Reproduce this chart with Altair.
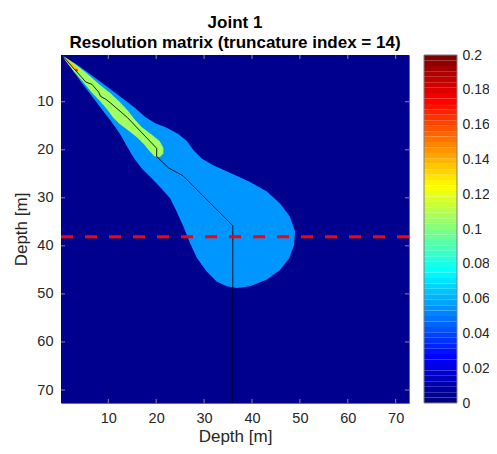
import altair as alt
import pandas as pd

FONT = "Liberation Sans"
TXT = "#262626"

# axis domains (depth in m)
X_DOMAIN = [0.13, 72.78]
Y_DOMAIN = [0.28, 72.7]

# contour levels of the resolution matrix
LEVEL_BG = 0.003
LEVEL_LB = 0.0544
LEVEL_GR = 0.1064
LEVEL_YE = 0.136
LEVEL_RE = 0.17

# background (lowest contour band)
bg_x = [0.13, 72.78, 72.78, 0.13]
bg_y = [0.28, 0.28, 72.7, 72.7]

# light-blue contour band
lb_x = [0.48, 4.1, 7.6, 10.4, 13.1, 15.6, 17.7, 19.8, 22.2, 24.6, 26.4, 27.8, 29.5,
        31.9, 35.4, 39.6, 43.1, 45.85, 47.9, 49.0, 48.8, 47.8, 45.85, 43.1, 39.6,
        36.8, 34.7, 32.6, 30.5, 28.5, 27.06, 25.7, 24.1, 22.9, 21.1, 19.1, 17.0,
        15.2, 13.8, 12.45, 10.7, 8.6, 6.5, 4.4, 2.4, 0.62]
lb_y = [0.38, 2.7, 5.3, 7.35, 9.4, 11.3, 13.2, 14.5, 15.4, 16.7, 18.2, 20.1, 21.8,
        23.2, 24.8, 26.7, 28.7, 31.2, 33.9, 37.0, 39.8, 42.5, 45.0, 47.0, 48.4,
        48.75, 48.4, 47.4, 45.3, 42.5, 39.4, 36.0, 32.5, 30.1, 28.05, 26.0, 23.9,
        21.5, 19.1, 16.7, 14.2, 11.5, 8.7, 6.0, 3.2, 0.79]

# green contour band
gr_x = [0.76, 3.05, 5.5, 7.9, 10.4, 12.45, 14.2, 15.4, 17.0, 19.1, 20.7, 21.5, 21.5,
        20.8, 19.6, 18.6, 17.5, 16.1, 14.2, 12.45, 11.05, 9.7, 8.3, 6.5, 4.8, 2.7, 0.96]
gr_y = [0.65, 2.17, 4.1, 6.2, 8.2, 10.1, 12.0, 13.55, 15.3, 16.9, 18.2, 19.6, 20.8,
        21.5, 21.35, 20.25, 18.9, 17.5, 16.0, 14.7, 13.35, 11.5, 9.9, 8.05, 5.97, 3.55, 1.34]

# small high-value patches near the surface
ye_x = [0.8, 2.2, 3.6, 3.9, 3.3, 2.0, 0.8]
ye_y = [0.7, 1.7, 3.0, 3.6, 3.7, 2.3, 1.0]
re_x = [3.1, 3.6, 3.7, 3.2]
re_y = [3.1, 3.3, 3.7, 3.5]

# black path
path_x = [0.4, 4.5, 5.3, 6.6, 8.0, 8.4, 9.5, 10.5, 14.0, 20.1, 20.1, 22.6, 25.6, 36.0, 36.0]
path_y = [0.4, 5.0, 5.9, 6.4, 8.0, 8.9, 9.5, 10.3, 13.3, 19.7, 21.4, 23.8, 25.4, 35.8, 72.7]

# red dashed depth line
joint_depth = 38.1

tick_vals = [10, 20, 30, 40, 50, 60, 70]
cbar_ticks = [0, 0.02, 0.04, 0.06, 0.08, 0.1, 0.12, 0.14, 0.16, 0.18, 0.2]
CBAR_MIN, CBAR_MAX, CBAR_N = 0.0, 0.2, 64
JET = ["#000080", "#0000ff", "#0080ff", "#00ffff", "#80ff80",
       "#ffff00", "#ff8000", "#ff0000", "#800000"]

polys = [("a_bg", bg_x, bg_y, LEVEL_BG), ("b_lb", lb_x, lb_y, LEVEL_LB),
         ("c_gr", gr_x, gr_y, LEVEL_GR), ("d_ye", ye_x, ye_y, LEVEL_YE),
         ("e_re", re_x, re_y, LEVEL_RE)]
frames = []
for name, xs, ys, lvl in polys:
    frames.append(pd.DataFrame({"x": xs, "y": ys, "level": lvl, "poly": name,
                                "i": list(range(len(xs)))}))
df = pd.concat(frames, ignore_index=True)
path_df = pd.DataFrame({"x": path_x, "y": path_y, "i": list(range(len(path_x)))})
ticks_df = pd.DataFrame({"v": tick_vals})

# colour-bar bands (colormap steps)
step = (CBAR_MAX - CBAR_MIN) / CBAR_N
cbar_df = pd.DataFrame({
    "lo": [CBAR_MIN + k * step for k in range(CBAR_N)],
    "hi": [CBAR_MIN + (k + 1) * step for k in range(CBAR_N)],
    "c": [CBAR_MIN + (CBAR_MAX - CBAR_MIN) * k / (CBAR_N - 1) for k in range(CBAR_N)],
})

W, H = 348, 348
CB_X0, CB_X1 = W + 15, W + 48

xscale = alt.Scale(domain=X_DOMAIN, nice=False, zero=False)
yscale = alt.Scale(domain=Y_DOMAIN, nice=False, zero=False, reverse=True)
fill_scale = alt.Scale(domain=[CBAR_MIN, CBAR_MAX], range=JET, interpolate="rgb")

xaxis = alt.Axis(values=tick_vals, title="Depth [m]", labelFontSize=14.5, labelColor=TXT,
                 labelFont=FONT, titleFont=FONT, titleFontSize=17, titleColor=TXT,
                 titleFontWeight="normal", tickSize=0, domain=False, grid=False,
                 labelPadding=8, titleBaseline="alphabetic", titleY=38)
yaxis = alt.Axis(values=tick_vals, title="Depth [m]", labelFontSize=14.5, labelColor=TXT,
                 labelFont=FONT, titleFont=FONT, titleFontSize=17, titleColor=TXT,
                 titleFontWeight="normal", tickSize=0, domain=False, grid=False,
                 labelPadding=8, titlePadding=6)
cbar_axis = alt.Axis(values=cbar_ticks, format="~g", orient="right", offset=CB_X1 - W,
                     title=None, labelFontSize=14, labelColor=TXT, labelFont=FONT,
                     tickSize=0, domain=False, grid=False, labelPadding=5,
                     labelOverlap=False, labelFlush=False)

layers = []
for name, _, _, _ in polys:
    layers.append(
        alt.Chart(df).transform_filter(alt.datum.poly == name)
        .mark_line(strokeWidth=0, strokeOpacity=0, clip=True, interpolate="linear")
        .encode(x=alt.X("x:Q", scale=xscale, axis=xaxis),
                y=alt.Y("y:Q", scale=yscale, axis=yaxis),
                fill=alt.Fill("level:Q", scale=fill_scale, legend=None),
                order="i:Q")
    )

path = alt.Chart(path_df).mark_line(color="#000000", strokeWidth=1, opacity=0.85, clip=True).encode(
    x=alt.X("x:Q", scale=xscale, axis=xaxis),
    y=alt.Y("y:Q", scale=yscale, axis=yaxis),
    order="i:Q")

dash = alt.Chart(pd.DataFrame({"d": [joint_depth]})).mark_rule(
    color="#ff0000", strokeWidth=3, strokeDash=[12, 12]).encode(
    y=alt.Y("d:Q", scale=yscale, axis=yaxis))

tick_color = "#8a8a8a"
tb = alt.Chart(ticks_df).mark_rule(color=tick_color, strokeWidth=1).encode(
    x=alt.X("v:Q", scale=xscale, axis=xaxis), y=alt.value(H), y2=alt.value(H - 4))
tt = alt.Chart(ticks_df).mark_rule(color=tick_color, strokeWidth=1).encode(
    x=alt.X("v:Q", scale=xscale, axis=xaxis), y=alt.value(0), y2=alt.value(4))
tl = alt.Chart(ticks_df).mark_rule(color=tick_color, strokeWidth=1).encode(
    y=alt.Y("v:Q", scale=yscale, axis=yaxis), x=alt.value(0), x2=alt.value(4))
tr = alt.Chart(ticks_df).mark_rule(color=tick_color, strokeWidth=1).encode(
    y=alt.Y("v:Q", scale=yscale, axis=yaxis), x=alt.value(W), x2=alt.value(W - 4))

main = alt.layer(*layers, path, dash, tb, tt, tl, tr)

cbscale = alt.Scale(domain=[CBAR_MIN, CBAR_MAX], nice=False, zero=False)
cbar = alt.Chart(cbar_df).mark_rect(stroke="transparent").encode(
    x=alt.value(CB_X0), x2=alt.value(CB_X1),
    y=alt.Y("lo:Q", scale=cbscale, axis=cbar_axis), y2="hi:Q",
    fill=alt.Fill("c:Q", scale=fill_scale, legend=None))
cbar_frame = alt.Chart(pd.DataFrame({"lo": [CBAR_MIN], "hi": [CBAR_MAX]})).mark_rect(
    fillOpacity=0, stroke="#7f7f7f", strokeWidth=1).encode(
    x=alt.value(CB_X0), x2=alt.value(CB_X1),
    y=alt.Y("lo:Q", scale=cbscale, axis=cbar_axis), y2="hi:Q")
cb = alt.layer(cbar, cbar_frame)

chart = alt.layer(main, cb).resolve_scale(y="independent").properties(
    width=W, height=H,
    autosize=alt.AutoSizeParams(type="none"),
    padding={"left": 53, "top": 47, "right": 80, "bottom": 42},
    title=alt.Title(text=["Joint 1", "Resolution matrix (truncature index = 14)"],
                    fontSize=17, fontWeight="bold", font=FONT, color="#000000",
                    lineHeight=19.5, offset=-3.5, anchor="middle"),
).configure_view(stroke="#707070", strokeWidth=1)

chart.save("out.html", embed_options={"renderer": "svg", "actions": False})
